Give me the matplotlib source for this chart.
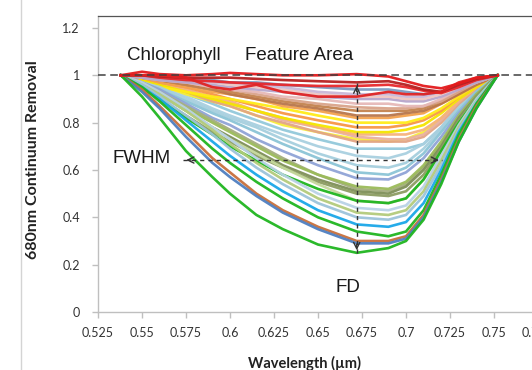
import matplotlib
matplotlib.use("Agg")
import matplotlib.pyplot as plt
from matplotlib.patches import Rectangle

# ---------------- data ----------------
wavelength = [0.538, 0.55, 0.56, 0.575, 0.59, 0.60, 0.615, 0.63, 0.65, 0.672,
              0.69, 0.70, 0.71, 0.72, 0.73, 0.74, 0.752]

# mid group (light blue / tan / yellow / orange / brown / pink)
s16 = [1.00, 0.98, 0.96, 0.92, 0.88, 0.85, 0.81, 0.77, 0.73, 0.69, 0.69, 0.69, 0.71, 0.78, 0.87, 0.94, 1.00]
s34 = [1.00, 0.98, 0.95, 0.91, 0.86, 0.83, 0.79, 0.75, 0.70, 0.66, 0.65, 0.67, 0.71, 0.78, 0.87, 0.94, 1.00]
s41 = [1.00, 0.98, 0.96, 0.92, 0.89, 0.87, 0.83, 0.79, 0.76, 0.73, 0.72, 0.73, 0.76, 0.82, 0.89, 0.95, 1.00]
s17 = [1.00, 0.98, 0.96, 0.93, 0.89, 0.87, 0.83, 0.80, 0.76, 0.72, 0.72, 0.72, 0.74, 0.80, 0.88, 0.94, 1.00]
s35 = [1.00, 0.99, 0.97, 0.94, 0.90, 0.88, 0.85, 0.81, 0.78, 0.74, 0.73, 0.73, 0.75, 0.81, 0.89, 0.95, 1.00]
s18 = [1.00, 0.99, 0.97, 0.94, 0.91, 0.89, 0.85, 0.82, 0.78, 0.75, 0.75, 0.75, 0.77, 0.82, 0.89, 0.95, 1.00]
s19 = [1.00, 0.98, 0.96, 0.93, 0.90, 0.88, 0.85, 0.82, 0.79, 0.76, 0.76, 0.77, 0.79, 0.84, 0.90, 0.95, 1.00]
s20 = [1.00, 0.99, 0.97, 0.95, 0.92, 0.90, 0.87, 0.84, 0.81, 0.78, 0.78, 0.79, 0.81, 0.85, 0.91, 0.96, 1.00]
s21 = [1.00, 0.97, 0.95, 0.93, 0.91, 0.90, 0.88, 0.86, 0.83, 0.80, 0.80, 0.80, 0.82, 0.86, 0.91, 0.96, 1.00]
s22 = [1.00, 0.99, 0.97, 0.95, 0.93, 0.92, 0.90, 0.87, 0.85, 0.82, 0.82, 0.83, 0.84, 0.88, 0.92, 0.96, 1.00]
s39 = [1.00, 0.99, 0.98, 0.96, 0.94, 0.92, 0.90, 0.88, 0.86, 0.83, 0.83, 0.84, 0.85, 0.88, 0.92, 0.96, 1.00]
s23 = [1.00, 0.99, 0.98, 0.96, 0.94, 0.93, 0.91, 0.89, 0.87, 0.85, 0.85, 0.85, 0.86, 0.89, 0.93, 0.97, 1.00]
s38 = [1.00, 0.99, 0.98, 0.97, 0.95, 0.94, 0.92, 0.90, 0.88, 0.865, 0.86, 0.86, 0.87, 0.89, 0.93, 0.97, 1.00]
s25 = [1.00, 0.99, 0.98, 0.97, 0.95, 0.94, 0.93, 0.91, 0.90, 0.88, 0.88, 0.87, 0.87, 0.90, 0.94, 0.97, 1.00]
s26 = [1.00, 0.99, 0.98, 0.97, 0.96, 0.95, 0.94, 0.93, 0.91, 0.90, 0.90, 0.89, 0.89, 0.91, 0.94, 0.97, 1.00]
s27 = [1.00, 1.00, 0.99, 0.98, 0.97, 0.96, 0.95, 0.94, 0.92, 0.91, 0.91, 0.90, 0.90, 0.92, 0.95, 0.98, 1.00]
s40 = [1.00, 1.00, 0.99, 0.98, 0.97, 0.97, 0.96, 0.95, 0.93, 0.92, 0.92, 0.91, 0.91, 0.93, 0.96, 0.98, 1.00]

# deep group (green / blue / olive)
s42 = [1.00, 0.97, 0.95, 0.90, 0.85, 0.82, 0.78, 0.73, 0.67, 0.62, 0.61, 0.63, 0.69, 0.77, 0.86, 0.93, 1.00]
s15 = [1.00, 0.97, 0.94, 0.89, 0.84, 0.81, 0.76, 0.71, 0.65, 0.59, 0.58, 0.61, 0.67, 0.76, 0.85, 0.93, 1.00]
s14 = [1.00, 0.97, 0.94, 0.88, 0.82, 0.79, 0.73, 0.68, 0.62, 0.565, 0.56, 0.59, 0.65, 0.74, 0.84, 0.92, 1.00]
s13 = [1.00, 0.97, 0.93, 0.87, 0.81, 0.77, 0.71, 0.65, 0.58, 0.52, 0.51, 0.54, 0.61, 0.71, 0.82, 0.91, 1.00]
s12 = [1.00, 0.96, 0.92, 0.86, 0.80, 0.76, 0.70, 0.64, 0.58, 0.53, 0.52, 0.55, 0.62, 0.72, 0.83, 0.92, 1.00]
s11 = [1.00, 0.96, 0.92, 0.85, 0.78, 0.74, 0.68, 0.62, 0.56, 0.51, 0.50, 0.53, 0.60, 0.70, 0.82, 0.91, 1.00]
s10 = [1.00, 0.95, 0.90, 0.83, 0.76, 0.72, 0.66, 0.61, 0.55, 0.50, 0.49, 0.51, 0.58, 0.69, 0.81, 0.91, 1.00]
s37 = [1.00, 0.96, 0.92, 0.85, 0.78, 0.73, 0.67, 0.61, 0.54, 0.47, 0.46, 0.48, 0.56, 0.67, 0.80, 0.90, 1.00]
s09 = [1.00, 0.95, 0.90, 0.82, 0.75, 0.70, 0.64, 0.58, 0.52, 0.47, 0.46, 0.48, 0.56, 0.68, 0.80, 0.90, 1.00]
s08 = [1.00, 0.97, 0.93, 0.86, 0.78, 0.73, 0.65, 0.58, 0.50, 0.44, 0.43, 0.45, 0.53, 0.66, 0.79, 0.90, 1.00]
s07 = [1.00, 0.96, 0.92, 0.85, 0.77, 0.71, 0.63, 0.56, 0.48, 0.42, 0.41, 0.43, 0.51, 0.64, 0.78, 0.89, 1.00]
s06 = [1.00, 0.96, 0.91, 0.83, 0.75, 0.69, 0.61, 0.54, 0.46, 0.40, 0.39, 0.41, 0.49, 0.62, 0.77, 0.89, 1.00]
s05 = [1.00, 0.95, 0.90, 0.81, 0.72, 0.66, 0.58, 0.51, 0.43, 0.37, 0.36, 0.38, 0.46, 0.60, 0.76, 0.88, 1.00]
s04 = [1.00, 0.95, 0.89, 0.79, 0.69, 0.63, 0.55, 0.48, 0.40, 0.34, 0.32, 0.34, 0.43, 0.58, 0.75, 0.88, 1.00]
s03 = [1.00, 0.94, 0.87, 0.76, 0.65, 0.59, 0.50, 0.43, 0.36, 0.30, 0.30, 0.32, 0.41, 0.56, 0.73, 0.87, 1.00]
s02 = [1.00, 0.93, 0.86, 0.74, 0.63, 0.57, 0.49, 0.42, 0.35, 0.29, 0.29, 0.31, 0.40, 0.55, 0.72, 0.86, 1.00]
s01 = [1.00, 0.91, 0.82, 0.68, 0.57, 0.50, 0.41, 0.35, 0.285, 0.25, 0.27, 0.30, 0.39, 0.54, 0.72, 0.86, 1.00]

# upper group (reds)
s28 = [1.00, 1.00, 0.99, 0.98, 0.98, 0.97, 0.97, 0.96, 0.95, 0.94, 0.94, 0.93, 0.92, 0.93, 0.96, 0.98, 1.00]
s32 = [1.00, 1.00, 0.99, 0.98, 0.975, 0.97, 0.965, 0.96, 0.955, 0.955, 0.96, 0.95, 0.935, 0.925, 0.95, 0.98, 1.00]
s31 = [1.00, 1.00, 0.995, 0.99, 0.99, 0.99, 0.985, 0.98, 0.975, 0.97, 0.975, 0.96, 0.94, 0.93, 0.96, 0.985, 1.00]
s29 = [1.00, 1.00, 1.00, 0.99, 0.95, 0.94, 0.96, 0.93, 0.91, 0.91, 0.93, 0.92, 0.92, 0.93, 0.97, 0.99, 1.00]
s30 = [1.00, 1.015, 1.005, 1.00, 1.005, 1.01, 1.005, 1.00, 1.00, 1.005, 0.995, 0.975, 0.955, 0.945, 0.965, 0.99, 1.00]

mid_series = [s16, s34, s41, s17, s35, s18, s19, s20, s21, s22, s39, s23, s38, s25, s26, s27, s40]
mid_colors = ['#93C9DB', '#A9D0E0', '#F8EE3A', '#E2A585', '#E8B0A0', '#F6B27C', '#F4E500', '#F79646',
              '#FFEB18', '#F4A24E', '#B8764C', '#C3834E', '#D9A48A', '#E6B9B8', '#B7A6CC', '#EFC6C2',
              '#C9B8D8']
deep_series = [s42, s15, s14, s13, s12, s11, s10, s37, s09, s08, s07, s06, s05, s04, s03, s02, s01]
deep_colors = ['#A6CFDE', '#8BC4D6', '#8FA3D6', '#A3AD7D', '#9BBB59', '#7E8F58', '#8C9C62', '#C4D79B',
               '#1FB51F', '#B9D2E6', '#B3CB7B', '#9CC3DA', '#1AA7E8', '#1FB51F', '#C8703C',
               '#4F7FC0', '#1FB51F']
upper_series = [s28, s32, s31, s29, s30]
upper_colors = ['#7D9BC1', '#E8282C', '#B52020', '#E02424', '#E31A1C']

x_ticks = [0.525, 0.55, 0.575, 0.6, 0.625, 0.65, 0.675, 0.7, 0.725, 0.75, 0.775]
x_tick_labels = ['0.525', '0.55', '0.575', '0.6', '0.625', '0.65', '0.675', '0.7', '0.725', '0.75', '0.775']
y_ticks = [0, 0.2, 0.4, 0.6, 0.8, 1.0, 1.2]
y_tick_labels = ['0', '0.2', '0.4', '0.6', '0.8', '1', '1.2']

# ---------------- figure ----------------
W, H = 532, 370
fig = plt.figure(figsize=(W / 100, H / 100), dpi=100)
fig.patch.set_facecolor('white')

# outer chart frame
fig.patches.append(Rectangle((21 / W, -0.2), 1.2, 1.2 + (1 - 12 / H), transform=fig.transFigure,
                             fill=False, edgecolor='#D4D4D4', lw=1.0, zorder=0))

ax = fig.add_axes([98 / W, 58 / H, 440 / W, 296 / H])
ax.set_xlim(0.525, 0.775)
ax.set_ylim(0, 296 / 236.7)

LW = 1.9
for vals, c in zip(mid_series, mid_colors):
    ax.plot(wavelength, vals, color=c, lw=LW, alpha=0.95, solid_joinstyle='round', zorder=2)
for vals, c in zip(deep_series, deep_colors):
    ax.plot(wavelength, vals, color=c, lw=LW, alpha=0.95, solid_joinstyle='round', zorder=3)
for vals, c in zip(upper_series, upper_colors):
    ax.plot(wavelength, vals, color=c, lw=LW, alpha=0.95, solid_joinstyle='round', zorder=4)

# dashed reference line at 1
ax.plot([0.525, 0.775], [1.0, 1.0], color='#404040', lw=1.1, ls=(0, (5, 3)), zorder=5)

dark = '#333333'
# FD arrow (vertical)
fd_x, fd_top, fd_bot = 0.672, 0.969, 0.249
ax.plot([fd_x, fd_x], [fd_bot, fd_top], color=dark, lw=1.0, ls=(0, (3, 3)), zorder=6)
ax.annotate('', xy=(fd_x, fd_top), xytext=(fd_x, fd_top - 0.05),
            arrowprops=dict(arrowstyle='->,head_length=0.45,head_width=0.22', color=dark, lw=1.0), zorder=6)
ax.annotate('', xy=(fd_x, fd_bot), xytext=(fd_x, fd_bot + 0.05),
            arrowprops=dict(arrowstyle='->,head_length=0.45,head_width=0.22', color=dark, lw=1.0), zorder=6)

# FWHM arrow (horizontal)
fw_y, fw_l, fw_r = 0.642, 0.5735, 0.7203
ax.plot([fw_l, fw_r], [fw_y, fw_y], color=dark, lw=1.0, ls=(0, (3, 3)), zorder=6)
ax.annotate('', xy=(fw_l, fw_y), xytext=(fw_l + 0.006, fw_y),
            arrowprops=dict(arrowstyle='->,head_length=0.45,head_width=0.22', color=dark, lw=1.0), zorder=6)
ax.annotate('', xy=(fw_r, fw_y), xytext=(fw_r - 0.006, fw_y),
            arrowprops=dict(arrowstyle='->,head_length=0.45,head_width=0.22', color=dark, lw=1.0), zorder=6)

# annotation texts
tfont = dict(family='Liberation Sans', size=13.5, color='#1a1a1a')
ax.text(0.5415, 1.065, 'Chlorophyll', va='baseline', ha='left', zorder=7, **tfont)
ax.text(0.6085, 1.065, 'Feature Area', va='baseline', ha='left', zorder=7, **tfont)
ax.text(0.5333, 0.630, 'FWHM', va='baseline', ha='left', zorder=7, **tfont)
ax.text(0.6602, 0.0845, 'FD', va='baseline', ha='left', zorder=7, **tfont)

# axes styling
for side in ['left', 'bottom']:
    ax.spines[side].set_color('#BFBFBF')
    ax.spines[side].set_linewidth(1.0)
ax.spines['top'].set_color('#555555')
ax.spines['top'].set_linewidth(0.9)
ax.spines['right'].set_visible(False)

ax.set_xticks(x_ticks)
ax.set_xticklabels(x_tick_labels)
ax.set_yticks(y_ticks)
ax.set_yticklabels(y_tick_labels)
ax.tick_params(axis='both', direction='out', length=4, width=1.0, color='#BFBFBF',
               labelsize=9, labelcolor='#333333')
ax.tick_params(axis='x', pad=7)
ax.tick_params(axis='y', pad=9)
for lab in ax.get_xticklabels() + ax.get_yticklabels():
    lab.set_family('Lato')

fig.text(33 / W, 1 - 160 / H, '680nm Continuum Removal', rotation=90, ha='center', va='center',
         family='Lato', fontweight='bold', fontsize=11.5, color='#222222')
fig.text(305 / W, 1 - 363 / H, 'Wavelength (\u00b5m)', ha='center', va='center',
         family='Lato', fontweight='bold', fontsize=10.5, color='#222222')

fig.savefig('out.png', dpi=100, facecolor='white')
